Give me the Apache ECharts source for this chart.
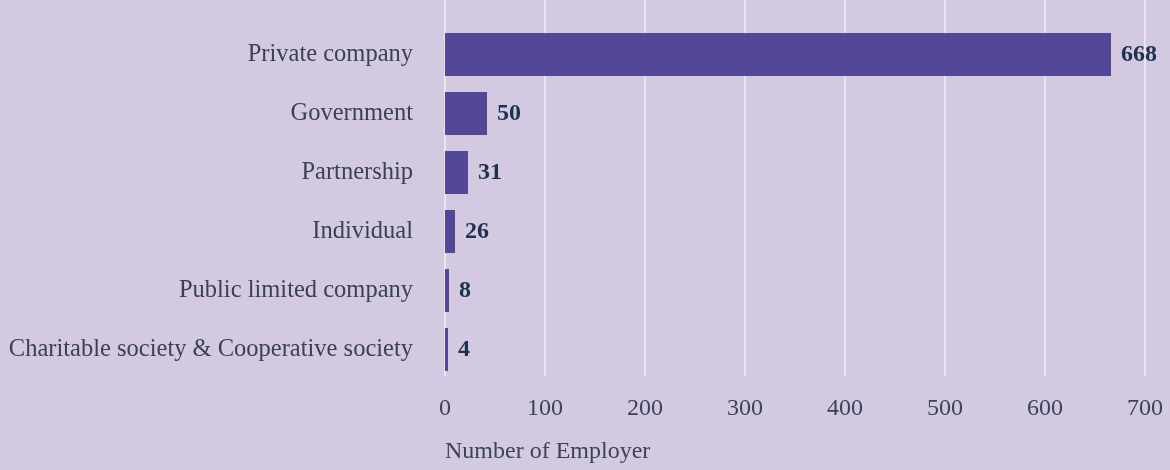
<!DOCTYPE html>
<html>
<head>
<meta charset="utf-8">
<script src="https://cdn.jsdelivr.net/npm/echarts@6/dist/echarts.min.js"></script>
<style>
html,body{margin:0;padding:0;background:#d3cae2;}
#chart{width:1170px;height:470px;}
</style>
</head>
<body>
<div id="chart"></div>
<script>
// Categories (top to bottom)
var categories = ['Private company', 'Government', 'Partnership', 'Individual', 'Public limited company', 'Charitable society & Cooperative society'];
// Bar lengths as drawn in the picture
var barValues = [666, 42, 23, 10, 4, 3];
// Value labels printed next to bars
var valueLabels = ['668', '50', '31', '26', '8', '4'];
// Value axis ticks
var axisMin = 0, axisMax = 700, axisStep = 100;
var axisTitle = 'Number of Employer';

var serif = '"Liberation Serif", "Times New Roman", serif';
var chart = echarts.init(document.getElementById('chart'), null, {renderer: 'canvas'});
chart.setOption({
  backgroundColor: '#d3cae2',
  animation: false,
  grid: [
    {left: 445, right: 25, top: 25, bottom: 91, containLabel: false},
    {left: 445, right: 25, top: 0, bottom: 94, containLabel: false}
  ],
  xAxis: [
    {
      type: 'value', gridIndex: 0, min: axisMin, max: axisMax, interval: axisStep,
      splitLine: {show: false}, axisLine: {show: false}, axisTick: {show: false},
      axisLabel: {margin: 18, color: '#3c4257', fontFamily: serif, fontSize: 24},
      name: axisTitle, nameLocation: 'start', nameGap: 0,
      nameTextStyle: {align: 'left', verticalAlign: 'top', padding: [61, 0, 0, 0], color: '#3c4257', fontFamily: serif, fontSize: 24}
    },
    {
      type: 'value', gridIndex: 1, min: axisMin, max: axisMax, interval: axisStep,
      axisLabel: {show: false}, axisLine: {show: false}, axisTick: {show: false},
      splitLine: {show: true, lineStyle: {color: '#e9e5ef', width: 2}}
    }
  ],
  yAxis: [
    {
      type: 'category', gridIndex: 0, data: categories, inverse: true,
      axisLine: {show: false}, axisTick: {show: false}, splitLine: {show: false},
      axisLabel: {margin: 32, color: '#3a4055', fontFamily: serif, fontSize: 24.5, padding: [0, 0, 6, 0]}
    },
    {type: 'category', gridIndex: 1, data: categories, show: false}
  ],
  series: [{
    type: 'bar', xAxisIndex: 0, yAxisIndex: 0,
    data: barValues, barWidth: 43,
    itemStyle: {color: '#534898'},
    label: {
      show: true, position: 'right', distance: 10,
      formatter: function (p) { return valueLabels[p.dataIndex]; },
      color: '#1e3151', fontFamily: serif, fontSize: 24, fontWeight: 'bold'
    }
  }]
});
</script>
</body>
</html>
